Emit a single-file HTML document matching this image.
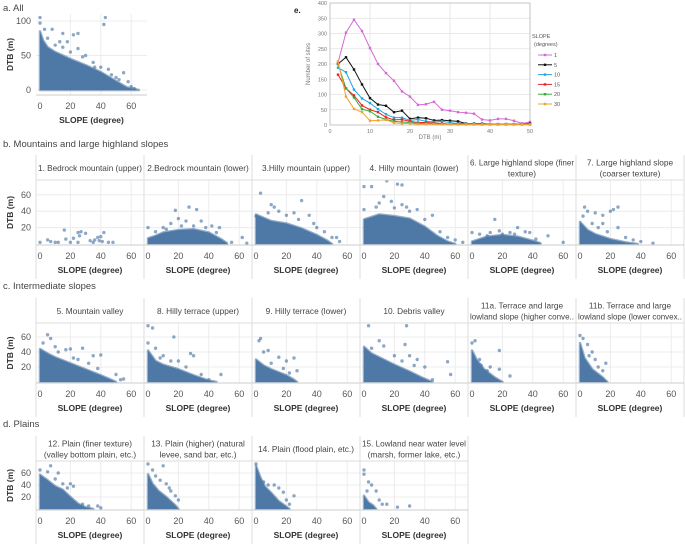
<!DOCTYPE html>
<html><head><meta charset="utf-8"><style>
body{margin:0;background:#fff;}
svg{display:block;font-family:"Liberation Sans",sans-serif;}
</style></head><body>
<svg id="fig" width="685" height="544" viewBox="0 0 685 544"></svg>
<script>
// ---- Panel e data ----
const eDTB = [2,4,6,8,10,12,14,16,18,20,22,24,26,28,30,32,34,36,38,40,42,44,46,48,50];
const eSlopeLabels = ["1","5","10","15","20","30"];
const eS1 = [205,303,345,308,252,200,170,145,110,93,66,68,76,50,47,42,40,37,18,15,20,20,14,5,10];
const eS5 = [200,222,182,133,88,67,63,42,47,20,24,22,15,16,14,12,5,5,5,3,3,3,3,3,5];
const eS10 = [188,173,116,87,72,52,35,24,24,15,18,12,10,12,8,5,5,5,4,3,3,3,3,3,3];
const eS15 = [165,120,97,64,50,42,25,17,18,12,8,8,6,5,3,3,3,3,2,2,2,2,2,2,2];
const eS20 = [200,120,90,52,45,27,18,12,10,8,5,5,4,3,3,2,2,2,2,2,2,2,2,2,2];
const eS30 = [208,93,53,42,14,15,17,7,5,5,3,3,3,2,2,2,2,2,2,2,2,2,2,2,2];
const eXTicks = [0,10,20,30,40,50];
const eYTicks = [0,50,100,150,200,250,300,350,400];
// ---- Scatter data: envelope of dense mass [slope, dtb] and scattered points ----
const slopeTicks = [0,20,40,60];
const aYTicks = [0,50,100];
const rowYTicks = [20,40,60];
const envA = [[0,85],[2,72],[5,62],[10,55],[20,45],[30,36],[40,26],[50,13],[57,4],[65,0]];
const ptsA = [[0,105],[0,97],[3,88],[8,88],[15,82],[22,80],[25,82],[43,105],[42,95],[25,60],[36,33],[55,25],[58,12],[62,2],[60,5],[13,70],[18,70],[30,50],[45,30],[50,18],[5,75],[10,65],[20,55],[28,48],[35,40],[40,33],[47,22],[52,15],[15,62]];
const envB1 = [];
const ptsB1 = [[0,2],[5,5],[7,3],[10,2],[16,17],[17,6],[20,2],[25,14],[26,10],[27,15],[30,13],[33,4],[36,5],[38,8],[40,9],[42,14],[41,3],[45,2],[48,2],[25,2],[35,2],[12,2],[22,7],[39,4]];
const envB2 = [[0,7],[5,10],[10,14],[20,17],[30,18],[40,14],[48,6],[52,1]];
const ptsB2 = [[18,41],[27,45],[32,42],[20,31],[25,28],[15,25],[35,28],[42,22],[47,20],[5,15],[0,20],[62,8],[65,1],[55,2],[10,20],[30,22],[12,18],[22,22],[38,20],[45,14]];
const envB3 = [[0,36],[5,32],[10,28],[20,25],[30,19],[40,11],[47,4],[50,0]];
const ptsB3 = [[3,62],[10,48],[12,45],[30,53],[15,40],[25,38],[35,35],[40,20],[45,15],[50,8],[53,8],[55,3],[0,34],[20,35],[8,38],[28,30],[38,25]];
const envB4 = [[0,30],[5,33],[10,36],[20,34],[30,31],[40,21],[48,10],[55,3],[60,0]];
const ptsB4 = [[0,70],[5,70],[15,77],[22,73],[25,72],[13,58],[18,52],[25,48],[30,40],[35,42],[45,35],[55,8],[60,5],[65,2],[0,42],[10,50],[8,45],[20,44],[28,45],[40,30],[50,15]];
const envB6 = [[0,3],[10,9],[20,11],[30,9],[40,4],[45,1]];
const ptsB6 = [[0,14],[5,12],[15,30],[20,12],[30,20],[35,15],[38,14],[50,10],[60,2],[10,10],[25,14],[42,6],[12,14],[18,16],[28,12]];
const envB7 = [[0,27],[5,17],[10,12],[20,6],[30,2],[38,0]];
const ptsB7 = [[3,45],[5,40],[10,38],[15,35],[20,40],[25,45],[22,42],[2,34],[15,25],[25,20],[35,5],[40,3],[48,1],[30,8],[8,25],[12,20],[18,15]];
const envC5 = [[0,44],[5,38],[10,33],[20,25],[30,17],[40,9],[48,2],[50,0]];
const ptsC5 = [[2,52],[5,63],[7,58],[10,47],[17,43],[20,44],[28,45],[35,35],[40,36],[50,10],[55,4],[53,3],[25,30],[12,40],[22,32],[32,25],[38,18]];
const envC8 = [[0,42],[5,28],[10,23],[20,17],[30,9],[40,2],[45,0]];
const ptsC8 = [[0,75],[3,72],[17,60],[0,52],[5,45],[10,35],[28,38],[30,35],[48,10],[40,3],[20,28],[8,32],[15,28],[25,20],[35,10]];
const envC9 = [[0,30],[5,22],[10,17],[20,9],[25,3],[27,0]];
const ptsC9 = [[2,55],[3,58],[5,40],[8,42],[15,33],[20,28],[25,32],[27,15],[22,12],[10,25],[18,18]];
const envC10 = [[0,47],[5,38],[10,33],[20,23],[30,14],[38,6],[45,0]];
const ptsC10 = [[3,75],[28,75],[10,55],[13,48],[27,50],[30,35],[35,30],[40,20],[55,27],[57,10],[45,3],[5,45],[20,35],[25,28],[33,22]];
const envC11a = [[0,42],[3,30],[8,17],[15,6],[20,0]];
const ptsC11a = [[2,55],[0,52],[5,30],[18,42],[18,17],[25,8],[10,15],[6,22],[12,20]];
const envC11b = [[0,52],[3,32],[8,17],[15,6],[18,0]];
const ptsC11b = [[0,62],[2,58],[5,50],[8,40],[10,30],[17,25],[15,15],[12,20],[6,35]];
const envD12 = [[0,57],[5,48],[10,38],[15,32],[20,20],[25,9],[30,3],[35,0]];
const ptsD12 = [[0,65],[5,62],[7,72],[12,60],[20,42],[22,38],[28,8],[32,5],[38,5],[40,2],[15,42],[18,35],[10,50]];
const envD13 = [[0,58],[3,42],[7,30],[12,20],[18,6],[20,0]];
const ptsD13 = [[0,75],[3,65],[10,72],[8,48],[12,42],[15,30],[18,22],[20,15],[5,55],[14,35]];
const envD14 = [[0,72],[3,52],[6,37],[10,27],[15,13],[20,4],[22,0]];
const ptsD14 = [[0,75],[5,45],[12,40],[15,35],[20,15],[25,22],[22,8],[18,28],[8,40]];
const envD15 = [[0,22],[3,11],[6,6],[8,0]];
const ptsD15 = [[0,65],[0,58],[3,45],[5,40],[8,30],[10,15],[15,8],[22,3],[30,5],[2,30],[12,8]];
</script>
<script>
const NS="http://www.w3.org/2000/svg";
const svg=document.getElementById('fig');
function mk(tag,attrs,parent){const e=document.createElementNS(NS,tag);for(const k in attrs)e.setAttribute(k,attrs[k]);(parent||svg).appendChild(e);return e;}
function txt(x,y,s,size,anchor,parent,extra){const t=mk('text',Object.assign({x:x,y:y,'font-size':size,'text-anchor':anchor||'start',fill:'#444'},extra||{}),parent);t.textContent=s;return t;}
const DOT='#4e79a7';

let t;
t=txt(3,11,'a. All',9.5);
t=txt(3,147,'b. Mountains and large highland slopes',9.5);
t=txt(3,289,'c. Intermediate slopes',9.5);
t=txt(3,427,'d. Plains',9.5);

let clipId=0;
function scatter(p){
  const g=mk('g',{});
  
  
  const sx=v=>p.x0+v*p.kx, sy=v=>p.y0-v*p.ky;
  slopeTicks.forEach(v=>{if(v>0){const l=mk('line',{x1:sx(v),x2:sx(v),y1:p.top,y2:p.bottom,stroke:'#ececec','stroke-width':1},g);}});
  p.yt.forEach(v=>{const l=mk('line',{x1:p.left,x2:p.right,y1:sy(v),y2:sy(v),stroke:'#ececec','stroke-width':1},g);});
  const cid='c'+(clipId++);
  const cp=mk('clipPath',{id:cid},g);mk('rect',{x:p.left,y:p.top,width:p.right-p.left,height:p.bottom-p.top+2},cp);
  const dg=mk('g',{'clip-path':'url(#'+cid+')'},g);
  if(p.env.length){
    let d='M'+sx(p.env[0][0])+','+sy(0);
    p.env.forEach(q=>{d+=' L'+sx(q[0])+','+sy(q[1]);});
    d+=' L'+sx(p.env[p.env.length-1][0])+','+sy(0)+' Z';
    const a=mk('path',{d:d,fill:DOT,stroke:DOT,'stroke-width':2.5,'stroke-opacity':0.6,'stroke-linejoin':'round'},dg);
    
  }
  p.pts.forEach(q=>{const c=mk('circle',{cx:sx(q[0]),cy:sy(q[1]),r:1.7,fill:DOT,'fill-opacity':0.65},dg);});
  mk('line',{x1:p.left,x2:p.right,y1:p.bottom,y2:p.bottom,stroke:'#ccc'},g);
  slopeTicks.forEach(v=>{const l=txt(sx(v),p.bottom+14,String(v),9,'middle',g,{fill:'#555'});});
  const xl=txt((p.left+p.right)/2,p.bottom+28,'SLOPE (degree)',8.5,'middle',g,{'font-weight':'bold',fill:'#333'});
  
  if(p.first){
    p.yt.forEach(v=>{const l=txt(p.left-5,sy(v)+3,String(v),9,'end',g,{fill:'#555'});});
    const yl=txt(0,0,'DTB (m)',8.5,'middle',g,{'font-weight':'bold',fill:'#333',transform:'translate(13,'+((p.top+p.bottom)/2)+') rotate(-90)'});
    
  }
  if(p.title){
    const hg=mk('g',{},g);
    mk('line',{x1:p.left,x2:p.right,y1:p.top,y2:p.top,stroke:'#ddd'},hg);
    const lines=p.title;const cy=(p.htop+p.top)/2;
    lines.forEach((s,i)=>{const tt=txt((p.left+p.right)/2,cy+3.5+(i-(lines.length-1)/2)*11,s,8.3,'middle',hg,{fill:'#444'});
      if(tt.getComputedTextLength&&tt.getComputedTextLength()>104){tt.setAttribute('textLength',104);tt.setAttribute('lengthAdjust','spacingAndGlyphs');}});
  }
  return g;
}
scatter({name:'panel-a-scatter',left:36,right:147,top:14,bottom:95,x0:40,kx:1.52,y0:90,ky:0.69,yt:aYTicks,env:envA,pts:ptsA,first:true});

function row(rowName,cfg,panels){
  const g=mk('g',{});
  panels.forEach((pn,i)=>{
    const L=36+108*i;
    const dl=mk('line',{x1:L,x2:L,y1:cfg.htop,y2:cfg.bottom+34,stroke:'#ddd'},g);
    
    if(i===panels.length-1){mk('line',{x1:L+108,x2:L+108,y1:cfg.htop,y2:cfg.bottom+34,stroke:'#ddd'},g);}
    const s=scatter({name:pn.name,left:L,right:L+108,top:cfg.top,bottom:cfg.bottom,htop:cfg.htop,x0:L+4,kx:1.52,y0:cfg.y0,ky:cfg.ky,yt:rowYTicks,env:pn.env,pts:pn.pts,first:i===0,title:pn.title});
    g.appendChild(s);
  });
}
row('row-b',{htop:155,top:180,bottom:245,y0:244,ky:0.82},[
 {name:'panel-1-bedrock-upper',title:['1. Bedrock mountain (upper)'],env:envB1,pts:ptsB1},
 {name:'panel-2-bedrock-lower',title:['2.Bedrock mountain (lower)'],env:envB2,pts:ptsB2},
 {name:'panel-3-hilly-upper',title:['3.Hilly mountain (upper)'],env:envB3,pts:ptsB3},
 {name:'panel-4-hilly-lower',title:['4. Hilly mountain (lower)'],env:envB4,pts:ptsB4},
 {name:'panel-6-highland-finer',title:['6. Large highland slope (finer','texture)'],env:envB6,pts:ptsB6},
 {name:'panel-7-highland-coarser',title:['7. Large highland slope','(coarser texture)'],env:envB7,pts:ptsB7}]);
row('row-c',{htop:298,top:323,bottom:383,y0:382,ky:0.75},[
 {name:'panel-5-mountain-valley',title:['5. Mountain valley'],env:envC5,pts:ptsC5},
 {name:'panel-8-terrace-upper',title:['8. Hilly terrace (upper)'],env:envC8,pts:ptsC8},
 {name:'panel-9-terrace-lower',title:['9. Hilly terrace (lower)'],env:envC9,pts:ptsC9},
 {name:'panel-10-debris-valley',title:['10. Debris valley'],env:envC10,pts:ptsC10},
 {name:'panel-11a-terrace-higher',title:['11a. Terrace and large','lowland slope (higher conve..'],env:envC11a,pts:ptsC11a},
 {name:'panel-11b-terrace-lower',title:['11b. Terrace and large','lowland slope (lower convex..'],env:envC11b,pts:ptsC11b}]);
row('row-d',{htop:436,top:461,bottom:510,y0:509,ky:0.6},[
 {name:'panel-12-plain-finer',title:['12. Plain (finer texture)','(valley bottom plain, etc.)'],env:envD12,pts:ptsD12},
 {name:'panel-13-plain-higher',title:['13. Plain (higher) (natural','levee, sand bar, etc.)'],env:envD13,pts:ptsD13},
 {name:'panel-14-flood-plain',title:['14. Plain (flood plain, etc.)'],env:envD14,pts:ptsD14},
 {name:'panel-15-lowland',title:['15. Lowland near water level','(marsh, former lake, etc.)'],env:envD15,pts:ptsD15}]);

(function(){
  const g=mk('g',{});
  const L=330,R=530,T=3,B=125;
  const sx=v=>L+(v/50)*(R-L), sy=v=>B-(v/400)*(B-T);
  eXTicks.forEach(v=>{mk('line',{x1:sx(v),x2:sx(v),y1:T,y2:B,stroke:'#e2e2e2','stroke-width':0.8},g);
    const l=txt(sx(v),B+8,String(v),5.5,'middle',g,{fill:'#777'});});
  eYTicks.forEach(v=>{mk('line',{x1:L,x2:R,y1:sy(v),y2:sy(v),stroke:'#e2e2e2','stroke-width':0.8},g);
    const l=txt(L-3,sy(v)+2,String(v),5.5,'end',g,{fill:'#777'});});
  mk('rect',{x:L,y:T,width:R-L,height:B-T,fill:'none',stroke:'#bbb','stroke-width':0.8},g);
  let a=txt(430,139,'DTB (m)',6,'middle',g,{fill:'#777'});
  a=txt(0,0,'Number of sites',6,'middle',g,{fill:'#777',transform:'translate(310,64) rotate(-90)'});
  a=txt(294,13,'e.',8,'start',g,{'font-weight':'bold',fill:'#222'});
  const series=[eS1,eS5,eS10,eS15,eS20,eS30];
  const colors=['#d768d7','#111','#22a6de','#ee2222','#3aaa3a','#f7a030'];
  series.forEach((s,i)=>{
    const pts=eDTB.map((x,j)=>sx(x)+','+sy(s[j])).join(' ');
    const pl=mk('polyline',{points:pts,fill:'none',stroke:colors[i],'stroke-width':1},g);
    
    eDTB.forEach((x,j)=>{mk('rect',{x:sx(x)-1.2,y:sy(s[j])-1.2,width:2.4,height:2.4,fill:colors[i]},g);});
  });
  a=txt(532,38,'SLOPE',5.5,'start',g,{fill:'#555'});
  txt(534,46,'(degrees)',5.5,'start',g,{fill:'#555'});
  eSlopeLabels.forEach((lab,i)=>{
    const y=55+i*9.8;
    const lg=mk('g',{},g);
    mk('line',{x1:538,x2:552,y1:y,y2:y,stroke:colors[i],'stroke-width':1},lg);
    mk('rect',{x:543.8,y:y-1.2,width:2.4,height:2.4,fill:colors[i]},lg);
    txt(554,y+2,lab,5.5,'start',lg,{fill:'#555'});
  });
})();
</script>
</body></html>
